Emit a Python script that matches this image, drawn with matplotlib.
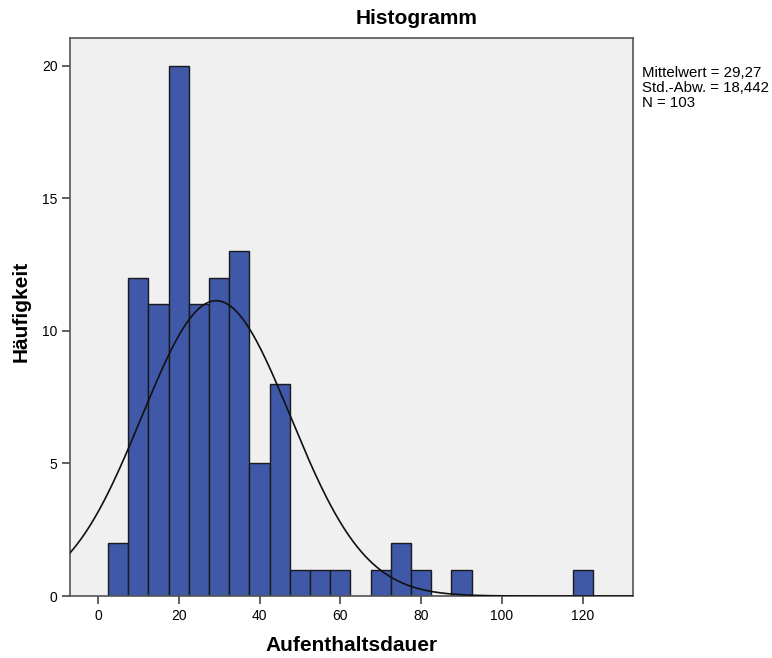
import numpy as np
import matplotlib
matplotlib.use('Agg')
import matplotlib.pyplot as plt

plt.rcParams['font.family'] = ['Liberation Sans', 'DejaVu Sans']

# data (bin width 5)
bin_edges = np.arange(2.5, 127.5, 5)
counts = [2, 12, 11, 20, 11, 12, 13, 5, 8, 1, 1, 1, 0, 1, 2, 1, 0, 1,
          0, 0, 0, 0, 0, 1]
mean_val = 29.27
std_val = 18.442
n_total = 103
x_ticks = [0, 20, 40, 60, 80, 100, 120]
y_ticks = [0, 5, 10, 15, 20]

fig = plt.figure(figsize=(7.72, 6.58), dpi=100)
ax = fig.add_axes([0.0907, 0.0942, 0.729, 0.848])
ax.set_facecolor('#f0f0f0')

widths = np.diff(bin_edges)
ax.bar(bin_edges[:-1], counts, width=widths, align='edge',
       color='#3f58a8', edgecolor='#1a1a1a', linewidth=1.0, zorder=2)

# normal curve scaled to counts
xs = np.linspace(-7, 133, 500)
ys = n_total * 5 / (std_val * np.sqrt(2 * np.pi)) * np.exp(-0.5 * ((xs - mean_val) / std_val) ** 2)
ax.plot(xs, ys, color='#111111', linewidth=1.2, zorder=3)

ax.set_xlim(-6.9, 132.4)
ax.set_ylim(0, 21.05)
ax.set_xticks(x_ticks)
ax.set_yticks(y_ticks)
ax.tick_params(axis='both', direction='out', length=6, width=1.2,
               color='#444444', labelsize=10, pad=3)
for s in ax.spines.values():
    s.set_color('#555555')
    s.set_linewidth(1.2)

fig.text(417 / 772, 1 - 19 / 658, 'Histogramm', fontsize=15,
         fontweight='bold', ha='center', va='center')
ax.set_xlabel('Aufenthaltsdauer', fontsize=15, fontweight='bold', labelpad=10)
ax.set_ylabel('Häufigkeit', fontsize=15, fontweight='bold')
ax.yaxis.set_label_coords(-0.07, 0.51)

fig.text(642 / 772, 1 - 66 / 658,
         'Mittelwert = 29,27\nStd.-Abw. = 18,442\nN = 103',
         fontsize=10.8, va='top', ha='left', linespacing=1.08)

fig.savefig('out.png', dpi=100)
